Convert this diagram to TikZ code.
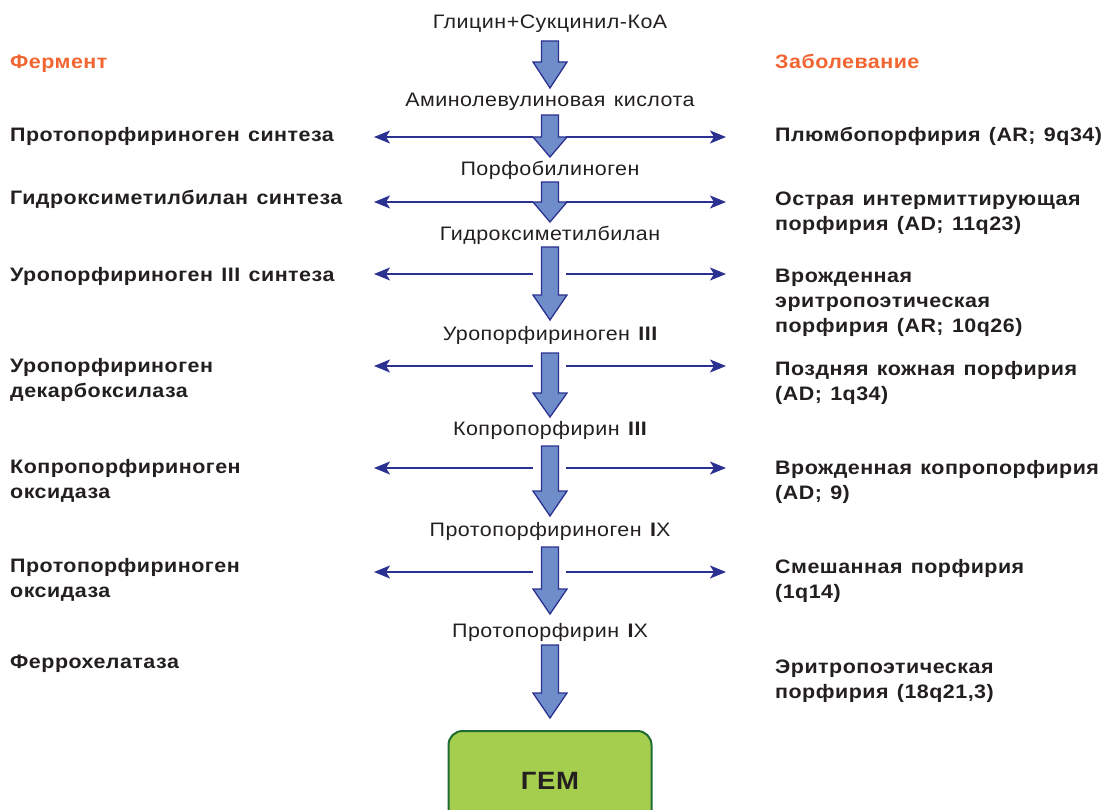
\documentclass[tikz,border=0pt]{standalone}
\usepackage{fontspec}
\setmainfont{Liberation Sans}[FakeStretch=1.1,LetterSpace=2.5,WordSpace=1.3]
\usetikzlibrary{arrows.meta}
\definecolor{orng}{HTML}{F26531}
\definecolor{ink}{HTML}{231F20}
\definecolor{navy}{HTML}{2B3190}
\definecolor{afill}{HTML}{6E8DC9}
\definecolor{gfill}{HTML}{A6CE4E}
\definecolor{gedge}{HTML}{1E6B34}
\tikzset{
  mid/.style={font=\fontsize{19.5}{22}\selectfont, text=ink, inner sep=0pt, anchor=base},
  lab/.style={font=\fontsize{19.5}{25}\selectfont\bfseries, text=ink, inner sep=0pt, anchor=base west, align=left},
  head/.style={font=\fontsize{19.5}{22}\selectfont\bfseries, text=orng, inner sep=0pt, anchor=base west},
  hline/.style={draw=navy, line width=1.6pt, -{Stealth[length=16pt,width=13pt,inset=4pt]}},
  blk/.style={draw=navy, fill=afill, line width=1.3pt, line join=miter},
  gem/.style={draw=gedge, fill=gfill, line width=2pt, rounded corners=14pt, minimum width=203pt, minimum height=100pt, font=\fontsize{25}{28}\selectfont\bfseries, text=ink}
}
\newcommand\barrow[3]{\draw[blk] (541.5,#1) -- (558.5,#1) -- (558.5,#2) -- (567,#2) -- (550,#3) -- (533,#2) -- (541.5,#2) -- cycle;}
\begin{document}
\begin{tikzpicture}[x=1pt,y=-1pt]
\useasboundingbox (0,0) rectangle (1105,810);
% central chain
\node[mid] (s0) at (550,29) {Глицин+Сукцинил-КоА};
\node[mid] (s1) at (550,107) {Аминолевулиновая кислота};
\node[mid] (s2) at (550,176) {Порфобилиноген};
\node[mid] (s3) at (550,241) {Гидроксиметилбилан};
\node[mid] (s4) at (550,340) {Уропорфириноген {\bfseries III}};
\node[mid] (s5) at (550,435) {Копропорфирин {\bfseries III}};
\node[mid] (s6) at (550,536) {Протопорфириноген {\bfseries I}X};
\node[mid] (s7) at (550,637) {Протопорфирин {\bfseries I}X};
\node[gem] (gem) at (550,781) {ГЕМ};
% block arrows
\barrow{41}{62}{88}
\barrow{115}{137}{157}
\barrow{182}{202}{222}
\barrow{247}{295}{320}
\barrow{353}{393}{417}
\barrow{446}{491}{516}
\barrow{547}{589}{614}
\barrow{645}{693}{718}
% headers
\node[head] (hl) at (10,69) {Фермент};
\node[head] (hr) at (775,69) {Заболевание};
% enzymes (anchor = baseline of the last line)
\node[lab] (e1) at (10,142) {Протопорфириноген синтеза};
\node[lab] (e2) at (10,205) {Гидроксиметилбилан синтеза};
\node[lab] (e3) at (10,282) {Уропорфириноген III синтеза};
\node[lab] (e4) at (10,397) {Уропорфириноген\\декарбоксилаза};
\node[lab] (e5) at (10,498) {Копропорфириноген\\оксидаза};
\node[lab] (e6) at (10,597) {Протопорфириноген\\оксидаза};
\node[lab] (e7) at (10,668) {Феррохелатаза};
% diseases
\node[lab] (d1) at (775,142) {Плюмбопорфирия (AR; 9q34)};
\node[lab] (d2) at (775,231) {Острая интермиттирующая\\порфирия (AD; 11q23)};
\node[lab] (d3) at (775,332) {Врожденная\\эритропоэтическая\\порфирия (AR; 10q26)};
\node[lab] (d4) at (775,400) {Поздняя кожная порфирия\\(AD; 1q34)};
\node[lab] (d5) at (775,499) {Врожденная копропорфирия\\(AD; 9)};
\node[lab] (d6) at (775,598) {Смешанная порфирия\\(1q14)};
\node[lab] (d7) at (775,698) {Эритропоэтическая\\порфирия (18q21,3)};
% horizontal arrows
\foreach \i/\y in {1/137,2/202,3/274,4/366,5/468,6/572}{
  \coordinate (L\i) at (533,\y);
  \coordinate (R\i) at (566,\y);
  \coordinate (LT\i) at (374,\y);
  \coordinate (RT\i) at (726,\y);
  \draw[hline] (L\i) -- (LT\i);
  \draw[hline] (R\i) -- (RT\i);
}
\end{tikzpicture}
\end{document}
